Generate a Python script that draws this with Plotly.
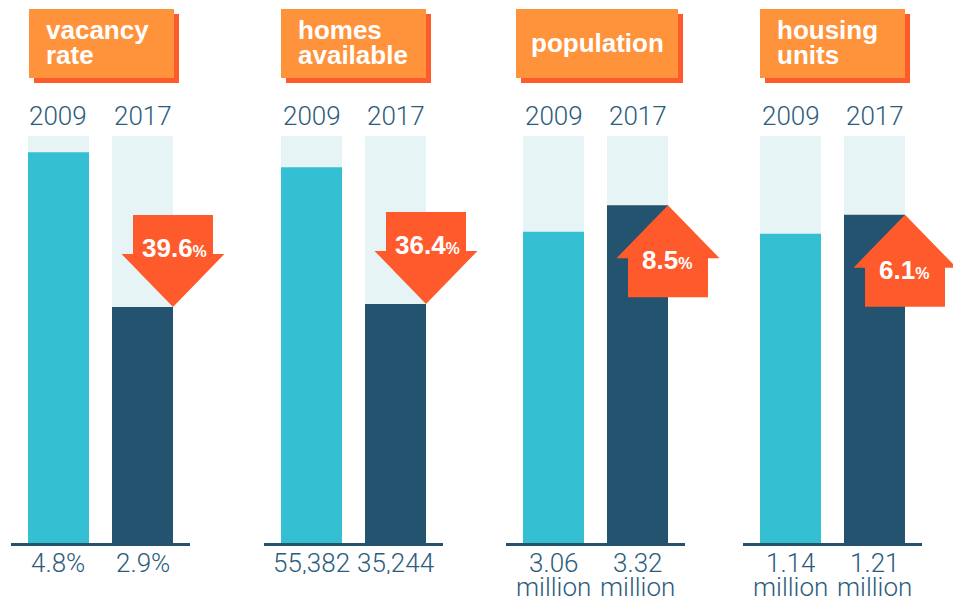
import plotly.graph_objects as go
from plotly.subplots import make_subplots

# ---------------- data ----------------
panel_titles = [["vacancy", "rate"], ["homes", "available"], ["population"], ["housing", "units"]]
years = ["2009", "2017"]
vacancy_rate = [4.8, 2.9]
homes_available = [55382, 35244]
population_millions = [3.06, 3.32]
housing_units_millions = [1.14, 1.21]
value_labels = [["4.8%", "2.9%"], ["55,382", "35,244"], ["3.06", "3.32"], ["1.14", "1.21"]]
unit_labels = ["", "", "million", "million"]
change_pct = [-39.6, -36.4, 8.5, 6.1]
axis_max = [5.0, 60000, 4.0, 1.5]

series = [vacancy_rate, homes_available, population_millions, housing_units_millions]

# ---------------- styles ----------------
W, H = 961, 601
OFF = 8  # page body margin
C_2009 = "#34C0D2"
C_2017 = "#24536F"
C_BG = "#E6F4F6"
C_TEXT = "#2C5C7C"
C_HEAD = "#FF933C"
C_SHADOW = "#FF5A2B"
C_ARROW = "#FF5A2B"
LIGHT_FONT = "Roboto"
BOLD_FONT = "Liberation Sans, Arial, sans-serif"


def px(x):
    return (x - OFF) / W


def py(y):
    return 1 - (y - OFF) / H


unit_px = 84.0
bar_w = 61 / unit_px
x_range = [-0.56, 1.571]
center0_px = [58.5, 311.5, 553.5, 790.5]
base_px, top_px = 543, 136
head_boxes = [(29, 174), (281, 426), (516, 678), (760, 905)]

fig = make_subplots(rows=1, cols=4)

shapes = []
annotations = []

for i, vals in enumerate(series):
    k = i + 1
    xa = "x" if k == 1 else f"x{k}"
    ya = "y" if k == 1 else f"y{k}"
    # background columns
    for xc in (0, 1):
        shapes.append(dict(type="rect", xref=xa, yref=f"{ya} domain",
                           x0=xc - bar_w / 2, x1=xc + bar_w / 2, y0=0, y1=1,
                           fillcolor=C_BG, line=dict(width=0), layer="below"))
    fig.add_trace(go.Bar(x=[0, 1], y=vals, width=bar_w,
                         marker=dict(color=[C_2009, C_2017], line=dict(width=0)),
                         hoverinfo="skip", showlegend=False), row=1, col=k)

    d0 = center0_px[i] + x_range[0] * unit_px
    d1 = center0_px[i] + x_range[1] * unit_px
    fig.update_xaxes(domain=[px(d0), px(d1)], range=x_range, showline=True,
                     linewidth=3, linecolor=C_2017, showgrid=False, zeroline=False,
                     showticklabels=False, ticks="", fixedrange=True, row=1, col=k)
    fig.update_yaxes(domain=[py(base_px), py(top_px)], range=[0, axis_max[i]],
                     visible=False, showgrid=False, zeroline=False, fixedrange=True,
                     row=1, col=k)

    # header box with shadow
    hl, hr = head_boxes[i]
    shapes.append(dict(type="rect", xref="paper", yref="paper",
                       x0=px(hl + 5), x1=px(hr + 5), y0=py(83), y1=py(14),
                       fillcolor=C_SHADOW, line=dict(width=0)))
    shapes.append(dict(type="rect", xref="paper", yref="paper",
                       x0=px(hl), x1=px(hr), y0=py(78), y1=py(9),
                       fillcolor=C_HEAD, line=dict(width=0)))
    lines = panel_titles[i]
    if len(lines) == 1:
        annotations.append(dict(xref="paper", yref="paper", x=px((hl + hr) / 2), y=py(43),
                                text=f"<b>{lines[0]}</b>", showarrow=False,
                                xanchor="center", yanchor="middle",
                                font=dict(family=BOLD_FONT, size=26, color="white")))
    else:
        for j, t in enumerate(lines):
            annotations.append(dict(xref="paper", yref="paper", x=px(hl + 15), y=py(30 + 25 * j),
                                    text=f"<b>{t}</b>", showarrow=False,
                                    xanchor="left", yanchor="middle",
                                    font=dict(family=BOLD_FONT, size=26, color="white")))

    # year labels and value labels
    for xc in (0, 1):
        annotations.append(dict(xref=xa, yref="paper", x=xc, y=py(115.5), text=years[xc],
                                showarrow=False, xanchor="center", yanchor="middle",
                                font=dict(family=LIGHT_FONT, size=26, color=C_TEXT, weight=300)))
        annotations.append(dict(xref=xa, yref="paper", x=xc, y=py(562), text=value_labels[i][xc],
                                showarrow=False, xanchor="center", yanchor="middle",
                                height=23, borderpad=0,
                                font=dict(family=LIGHT_FONT, size=26, color=C_TEXT, weight=300)))
        if unit_labels[i]:
            annotations.append(dict(xref=xa, yref="paper", x=xc, y=py(586), text=unit_labels[i],
                                    showarrow=False, xanchor="center", yanchor="middle",
                                    height=23, borderpad=0,
                                    font=dict(family=LIGHT_FONT, size=26, color=C_TEXT, weight=300)))

    # change arrow anchored at the top-right corner of the 2017 bar
    tip_x = px(center0_px[i] + (1 + bar_w / 2) * unit_px)
    tip_y = py(base_px - vals[1] / axis_max[i] * (base_px - top_px))
    s = 1 if change_pct[i] < 0 else -1  # down arrow sits above its tip
    hw, sw, hh, L = 51.5, 40, 53, 92
    path = (f"M 0 0 L {-hw} {s*hh} L {-sw} {s*hh} L {-sw} {s*L} L {sw} {s*L} "
            f"L {sw} {s*hh} L {hw} {s*hh} Z")
    shapes.append(dict(type="path", xref="paper", yref="paper", xsizemode="pixel",
                       ysizemode="pixel", xanchor=tip_x, yanchor=tip_y, path=path,
                       fillcolor=C_ARROW, line=dict(width=0), layer="above"))
    annotations.append(dict(xref="paper", yref="paper", x=tip_x, y=tip_y,
                            xshift=1 if s > 0 else -1, yshift=59 if s > 0 else -55,
                            text=f"<b>{abs(change_pct[i]):.1f}</b><span style='font-size:16px'><b>%</b></span>",
                            showarrow=False, xanchor="center", yanchor="middle",
                            font=dict(family=BOLD_FONT, size=26, color="white")))

fig.update_layout(width=W, height=H, margin=dict(l=0, r=0, t=0, b=0),
                  paper_bgcolor="white", plot_bgcolor="rgba(0,0,0,0)",
                  barmode="overlay", shapes=shapes, annotations=annotations,
                  showlegend=False)

fig.write_html("out.html")
